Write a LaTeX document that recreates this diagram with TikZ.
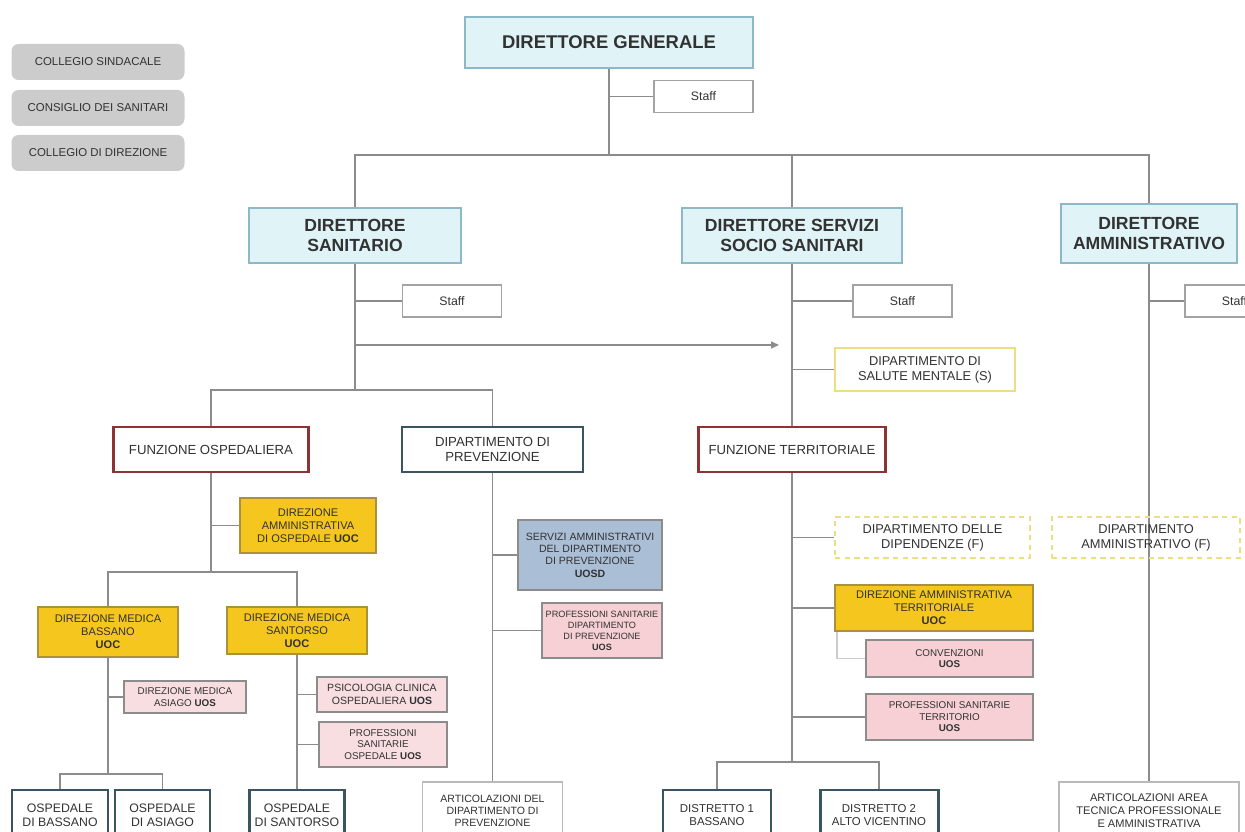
\documentclass[tikz,border=0pt]{standalone}
\usepackage{fontspec}
\setmainfont{Liberation Sans}
\usepackage{xcolor}
\definecolor{DirCyan}    {RGB}{224, 244, 248}
\definecolor{DirEdge}    {RGB}{140, 184, 200}
\definecolor{FunRed}     {RGB}{140,  52,  52}
\definecolor{SiteSlate}  {RGB}{ 58,  84,  98}
\definecolor{UocGold}    {RGB}{245, 198,  30}
\definecolor{UocEdge}    {RGB}{170, 145,  60}
\definecolor{UosPink}    {RGB}{246, 208, 212}
\definecolor{UosdBlue}   {RGB}{170, 190, 214}
\definecolor{DeptYellow} {RGB}{236, 222, 130}
\definecolor{LineGray}   {RGB}{140, 140, 140}
\definecolor{BoardGray}  {RGB}{204, 204, 204}
\definecolor{TextDark}   {RGB}{ 50,  50,  50}
\usepackage{tikz}
\usetikzlibrary{
  arrows.meta,
  positioning,
  backgrounds
}

\begin{document}
\begin{tikzpicture}[
  font=\fontsize{6.5}{7.5}\selectfont,
  board/.style={
    fill=BoardGray, rounded corners=4pt,
    minimum width=3.46cm, minimum height=0.72cm,
    text=TextDark
  },
  director/.style={
    draw=DirEdge, fill=DirCyan, align=center,
    line width=0.8pt, text=TextDark,
    font=\fontsize{10}{11.5}\selectfont\bfseries
  },
  staff/.style={
    draw=LineGray!80, fill=white, line width=0.7pt,
    minimum width=1.98cm, minimum height=0.64cm,
    font=\fontsize{7}{8}\selectfont, text=TextDark
  },
  funzione/.style={
    draw=FunRed, fill=white, line width=1.7pt,
    align=center, minimum height=0.90cm,
    font=\fontsize{7.5}{8.5}\selectfont, text=TextDark
  },
  site/.style={
    draw=SiteSlate, fill=white, line width=1.7pt,
    align=center, inner sep=1pt,
    font=\fontsize{7}{8}\selectfont, text=TextDark
  },
  uoc/.style={
    draw=UocEdge, fill=UocGold, line width=0.7pt,
    align=center, inner sep=1pt,
    font=\fontsize{6.3}{7.3}\selectfont, text=TextDark
  },
  uos/.style={
    draw=LineGray, fill=UosPink, line width=0.7pt,
    align=center, inner sep=1pt,
    font=\fontsize{5.6}{6.6}\selectfont, text=TextDark
  },
  uosd/.style={
    draw=LineGray, fill=UosdBlue, line width=0.7pt,
    align=center, inner sep=1pt,
    font=\fontsize{6}{7}\selectfont, text=TextDark
  },
  dept/.style={
    draw=DeptYellow, line width=1pt,
    align=center, inner sep=1pt,
    font=\fontsize{7.3}{8.4}\selectfont, text=TextDark
  },
  artic/.style={
    draw=LineGray!60, fill=white, line width=0.7pt,
    align=center, inner sep=1pt,
    font=\fontsize{6}{7}\selectfont, text=TextDark
  },
  link/.style={draw=LineGray, line width=0.85pt}
]
\useasboundingbox (0,0) rectangle (24.9,-16.64);

% organi
\node[board] (sind) at (1.96,-1.24) {COLLEGIO SINDACALE};
\node[board] (cons) at (1.96,-2.16) {CONSIGLIO DEI SANITARI};
\node[board] (coll) at (1.96,-3.06) {COLLEGIO DI DIREZIONE};

% direzione
\node[director, minimum width=5.76cm, minimum height=1.02cm,
  font=\fontsize{10.5}{12}\selectfont\bfseries]
  (dg) at (12.18,-0.85) {DIRETTORE GENERALE};
\node[staff] (staffdg) at (14.07,-1.93) {Staff};

\node[director, minimum width=4.24cm, minimum height=1.10cm]
  (ds) at (7.10,-4.71) {DIRETTORE\\SANITARIO};
\node[director, minimum width=4.40cm, minimum height=1.10cm]
  (dss) at (15.84,-4.71) {DIRETTORE SERVIZI\\SOCIO SANITARI};
\node[director, minimum width=3.52cm, minimum height=1.18cm]
  (da) at (22.98,-4.67) {DIRETTORE\\AMMINISTRATIVO};

\node[staff] (staffds) at (9.04,-6.02) {Staff};
\node[staff] (staffdss) at (18.05,-6.02) {Staff};
\node[staff] (staffda) at (24.69,-6.02) {Staff};

\node[dept, fill=white, minimum width=3.60cm, minimum height=0.86cm]
  (dsm) at (18.50,-7.39) {DIPARTIMENTO DI\\SALUTE MENTALE (S)};

% funzioni
\node[funzione, minimum width=3.90cm]
  (fo) at (4.22,-8.99) {FUNZIONE OSPEDALIERA};
\node[site, minimum width=3.62cm, minimum height=0.90cm,
  font=\fontsize{7.5}{8.8}\selectfont]
  (dp) at (9.85,-8.99) {DIPARTIMENTO DI\\PREVENZIONE};
\node[funzione, minimum width=3.74cm]
  (ft) at (15.84,-8.99) {FUNZIONE TERRITORIALE};

% ospedaliera
\node[uoc, minimum width=2.72cm, minimum height=1.10cm]
  (dao) at (6.16,-10.51)
  {DIREZIONE\\AMMINISTRATIVA\\DI OSPEDALE \textbf{UOC}};
\node[uoc, minimum width=2.80cm, minimum height=1.00cm]
  (dmb) at (2.16,-12.64)
  {DIREZIONE MEDICA\\BASSANO\\\textbf{UOC}};
\node[uoc, minimum width=2.80cm, minimum height=0.94cm]
  (dms) at (5.94,-12.61)
  {DIREZIONE MEDICA\\SANTORSO\\\textbf{UOC}};
\node[uos, fill=UosPink!70, minimum width=2.44cm, minimum height=0.64cm]
  (dma) at (3.70,-13.94) {DIREZIONE MEDICA\\ASIAGO \textbf{UOS}};
\node[uos, fill=UosPink!70, minimum width=2.60cm, minimum height=0.70cm,
  font=\fontsize{6}{7}\selectfont]
  (pco) at (7.64,-13.89) {PSICOLOGIA CLINICA\\OSPEDALIERA \textbf{UOS}};
\node[uos, fill=UosPink!70, minimum width=2.56cm, minimum height=0.90cm]
  (pso) at (7.66,-14.89)
  {PROFESSIONI\\SANITARIE\\OSPEDALE \textbf{UOS}};
\node[site, minimum width=1.92cm, minimum height=1.00cm]
  (obas) at (1.20,-16.30) {OSPEDALE\\DI BASSANO};
\node[site, minimum width=1.90cm, minimum height=1.00cm]
  (oasi) at (3.25,-16.30) {OSPEDALE\\DI ASIAGO};
\node[site, minimum width=1.90cm, minimum height=1.00cm]
  (osan) at (5.94,-16.30) {OSPEDALE\\DI SANTORSO};

% prevenzione
\node[uosd, minimum width=2.88cm, minimum height=1.40cm]
  (sad) at (11.80,-11.10)
  {SERVIZI AMMINISTRATIVI\\DEL DIPARTIMENTO\\DI PREVENZIONE\\\textbf{UOSD}};
\node[uos, minimum width=2.40cm, minimum height=1.10cm,
  font=\fontsize{5.2}{6.3}\selectfont]
  (psdp) at (12.04,-12.61)
  {PROFESSIONI SANITARIE\\DIPARTIMENTO\\DI PREVENZIONE\\\textbf{UOS}};
\node[artic, minimum width=2.80cm, minimum height=1.16cm]
  (adp) at (9.85,-16.22)
  {ARTICOLAZIONI DEL\\DIPARTIMENTO DI\\PREVENZIONE};

% territoriale
\node[dept, dashed, dash pattern=on 3pt off 2.5pt, line width=1.3pt,
  minimum width=3.90cm, minimum height=0.82cm]
  (ddip) at (18.65,-10.75) {DIPARTIMENTO DELLE\\DIPENDENZE (F)};
\node[uoc, minimum width=3.96cm, minimum height=0.92cm]
  (dat) at (18.68,-12.16)
  {DIREZIONE AMMINISTRATIVA\\TERRITORIALE\\\textbf{UOC}};
\node[uos, minimum width=3.34cm, minimum height=0.74cm]
  (conv) at (18.99,-13.17) {CONVENZIONI\\\textbf{UOS}};
\node[uos, minimum width=3.34cm, minimum height=0.92cm]
  (pst) at (18.99,-14.34)
  {PROFESSIONI SANITARIE\\TERRITORIO\\\textbf{UOS}};
\node[site, minimum width=2.16cm, minimum height=1.00cm,
  font=\fontsize{6.5}{7.8}\selectfont]
  (dis1) at (14.34,-16.30) {DISTRETTO 1\\BASSANO};
\node[site, minimum width=2.36cm, minimum height=1.00cm,
  font=\fontsize{6.5}{7.8}\selectfont]
  (dis2) at (17.58,-16.30) {DISTRETTO 2\\ALTO VICENTINO};

% amministrativo
\node[dept, dashed, dash pattern=on 3pt off 2.5pt, line width=1.3pt,
  minimum width=3.76cm, minimum height=0.82cm]
  (dam) at (22.92,-10.75) {DIPARTIMENTO\\AMMINISTRATIVO (F)};
\node[artic, minimum width=3.60cm, minimum height=1.16cm,
  font=\fontsize{6.3}{7.4}\selectfont]
  (aat) at (22.98,-16.22)
  {ARTICOLAZIONI AREA\\TECNICA PROFESSIONALE\\E AMMINISTRATIVA};

\coordinate (busdg) at (12.18,-3.10);
\coordinate (busds) at (7.10,-7.80);
\coordinate (busfo) at (4.22,-11.44);
\coordinate (busdmb) at (2.16,-15.48);
\coordinate (busft) at (15.84,-15.24);
\coordinate (tipds) at (15.58,-6.90);

\begin{scope}[on background layer]
\draw[link] (dg.south) -- (busdg);
\draw[link] (staffdg.west) -- (staffdg.west -| busdg);
\draw[link] (ds.north) |- (busdg) -| (dss.north);
\draw[link] (busdg) -| (da.north);

\draw[link] (ds.south) -- (busds);
\draw[link] (staffds.west) -- (staffds.west -| ds.south);
\draw[link, -{Triangle[length=1.6mm, width=1.4mm]}]
  (ds.south |- tipds) -- (tipds);
\draw[link] (fo.north) |- (busds) -| (dp.north);

\draw[link] (fo.south) -- (busfo);
\draw[link] (dao.west) -- (dao.west -| fo.south);
\draw[link] (dmb.north) |- (busfo) -| (dms.north);
\draw[link] (dmb.south) -- (busdmb);
\draw[link] (dma.west) -- (dma.west -| dmb.south);
\draw[link] (obas.north) |- (busdmb) -| (oasi.north);
\draw[link] (dms.south) -- (osan.north);
\draw[link] (pco.west) -- (pco.west -| dms.south);
\draw[link] (pso.west) -- (pso.west -| dms.south);

\draw[link] (dp.south) -- (adp.north);
\draw[link] (sad.west) -- (sad.west -| dp.south);
\draw[link] (psdp.west) -- (psdp.west -| dp.south);

\draw[link] (dss.south) -- (ft.north);
\draw[link] (staffdss.west) -- (staffdss.west -| dss.south);
\draw[link] (dsm.west) -- (dsm.west -| dss.south);
\draw[link] (ft.south) -- (busft);
\draw[link] (ddip.west) -- (ddip.west -| ft.south);
\draw[link] (dat.west) -- (dat.west -| ft.south);
\draw[link, LineGray!45] ([xshift=1.5pt]dat.south west) |- (conv.west);
\draw[link] (pst.west) -- (pst.west -| ft.south);
\draw[link] (dis1.north) |- (busft) -| (dis2.north);

\draw[link] (da.south) -- (aat.north);
\draw[link] (staffda.west) -- (staffda.west -| da.south);
\end{scope}
\end{tikzpicture}
\end{document}
